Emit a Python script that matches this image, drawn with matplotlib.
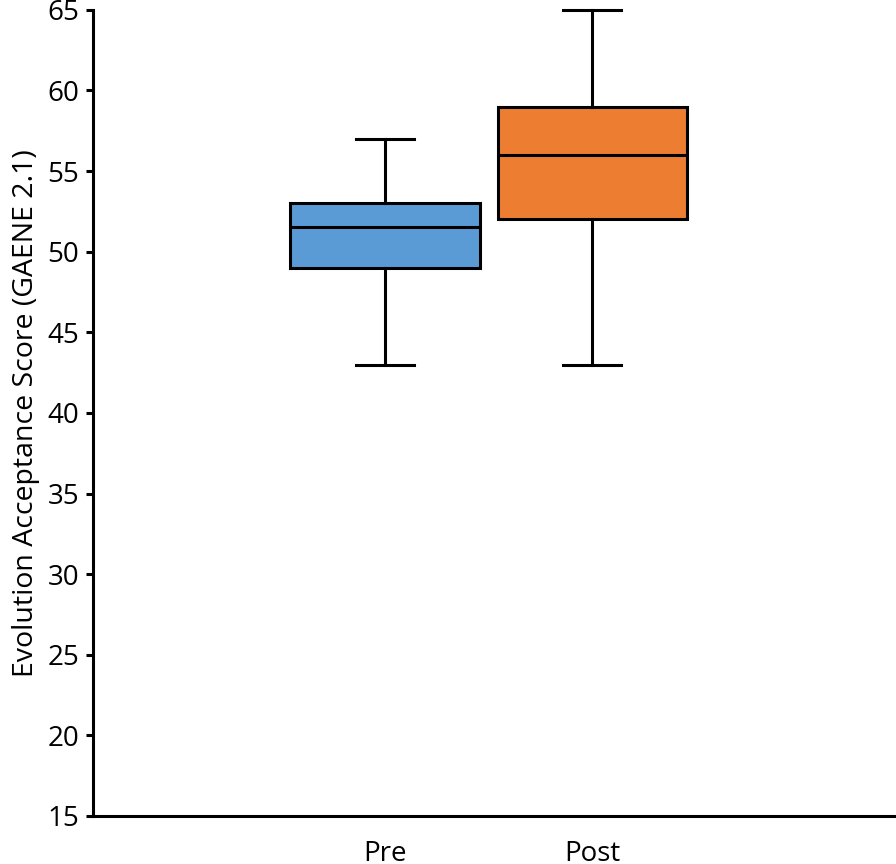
import matplotlib
matplotlib.use("Agg")
import matplotlib.pyplot as plt

plt.rcParams["font.family"] = ["Open Sans", "DejaVu Sans"]

groups = ["Pre", "Post"]
whislo = [43, 43]
q1 = [49, 52]
med = [51.5, 56]
q3 = [53, 59]
whishi = [57, 65]
colors = ["#5B9BD5", "#ED7D31"]

stats = []
for i, g in enumerate(groups):
    stats.append({"label": g, "whislo": whislo[i], "q1": q1[i], "med": med[i],
                  "q3": q3[i], "whishi": whishi[i], "fliers": []})

fig = plt.figure(figsize=(8.96, 8.64), dpi=100)
ax = fig.add_axes([0.104, 0.0556, 0.896, 0.933])

lw = 2.2
bp = ax.bxp(stats, positions=[1, 2], widths=0.913, patch_artist=True,
            showfliers=False,
            boxprops=dict(linewidth=lw, edgecolor="black"),
            medianprops=dict(linewidth=lw, color="black"),
            whiskerprops=dict(linewidth=lw, color="black"),
            capprops=dict(linewidth=lw, color="black"),
            capwidths=0.28)
for patch, c in zip(bp["boxes"], colors):
    patch.set_facecolor(c)
for key in ["boxes", "medians", "whiskers", "caps"]:
    for art in bp[key]:
        art.set_clip_on(False)

ax.set_xlim(-0.406, 3.464)
ax.set_ylim(15, 65)
ax.set_yticks(range(15, 70, 5))
ax.spines["top"].set_visible(False)
ax.spines["right"].set_visible(False)
ax.spines["left"].set_linewidth(lw)
ax.spines["bottom"].set_linewidth(lw)
ax.tick_params(axis="y", direction="out", length=5, width=lw, labelsize=20, pad=5)
ax.tick_params(axis="x", length=0, labelsize=20, pad=17)
ax.set_ylabel("Evolution Acceptance Score (GAENE 2.1)", fontsize=20.5, labelpad=5)

fig.savefig("out.png", dpi=100)
